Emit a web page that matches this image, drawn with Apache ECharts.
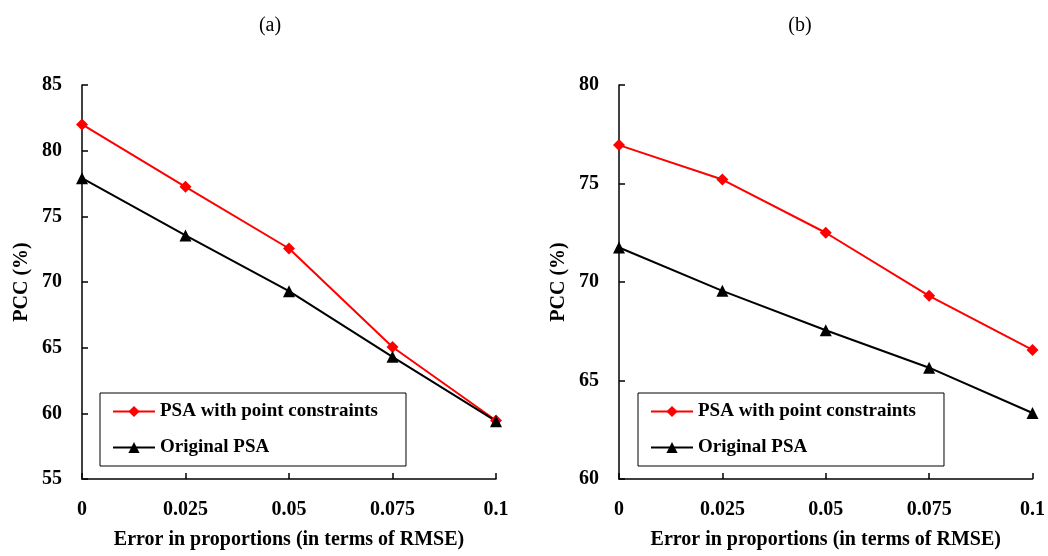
<!DOCTYPE html>
<html>
<head>
<meta charset="utf-8">
<script src="https://cdn.jsdelivr.net/npm/echarts@6/dist/echarts.min.js"></script>
<style>
  html, body { margin: 0; padding: 0; background: #fff; }
  #chart { width: 1048px; height: 556px; }
</style>
</head>
<body>
<div id="chart"></div>
<script>
  const errorLevels = [0, 0.025, 0.05, 0.075, 0.1];
  const xTickLabels = ["0", "0.025", "0.05", "0.075", "0.1"];

  // panel (a)
  const constrainedA = [82.0, 77.25, 72.55, 65.05, 59.45];
  const originalA = [77.9, 73.55, 69.3, 64.3, 59.4];
  // panel (b)
  const constrainedB = [76.95, 75.2, 72.5, 69.3, 66.55];
  const originalB = [71.75, 69.55, 67.55, 65.65, 63.35];

  const seriesNames = ["PSA with point constraints", "Original PSA"];
  const font = "'Liberation Serif', 'Times New Roman', serif";

  const pair = (ys) => errorLevels.map((x, i) => [x, ys[i]]);

  const xAxisFor = (gridIndex) => ({
    type: "value",
    gridIndex: gridIndex,
    min: 0,
    max: 0.1,
    interval: 0.025,
    name: "Error in proportions (in terms of RMSE)",
    nameLocation: "middle",
    nameGap: 51,
    nameTextStyle: { fontFamily: font, fontWeight: "bold", fontSize: 20, color: "#000" },
    axisLine: { lineStyle: { color: "#000", width: 1.5 } },
    axisTick: { inside: true, length: 6, lineStyle: { color: "#000", width: 1.5 } },
    axisLabel: {
      margin: 21,
      fontFamily: font,
      fontWeight: "bold",
      fontSize: 20,
      color: "#000",
      formatter: (v) => xTickLabels[errorLevels.indexOf(+v.toFixed(3))] ?? ""
    },
    splitLine: { show: false }
  });

  const yAxisFor = (gridIndex, min, max) => ({
    type: "value",
    gridIndex: gridIndex,
    min: min,
    max: max,
    interval: 5,
    name: "PCC (%)",
    nameLocation: "middle",
    nameGap: 50,
    nameTextStyle: { fontFamily: font, fontWeight: "bold", fontSize: 20, color: "#000" },
    axisLine: { show: true, lineStyle: { color: "#000", width: 1.5 } },
    axisTick: { show: true, inside: true, length: 6, lineStyle: { color: "#000", width: 1.5 } },
    axisLabel: { margin: 20, fontFamily: font, fontWeight: "bold", fontSize: 20, color: "#000" },
    splitLine: { show: false }
  });

  const lineSeries = (name, idx, ys, color, symbol, size) => ({
    name: name,
    type: "line",
    xAxisIndex: idx,
    yAxisIndex: idx,
    data: pair(ys),
    symbol: symbol,
    symbolSize: size,
    showSymbol: true,
    lineStyle: { color: color, width: 2 },
    itemStyle: { color: color },
    emphasis: { disabled: true },
    animation: false
  });

  const legendFor = (left) => ({
    data: seriesNames,
    orient: "vertical",
    left: left,
    top: 393,
    itemWidth: 42,
    itemHeight: 14,
    itemGap: 17,
    padding: [9, 28, 9, 12],
    borderColor: "#000",
    borderWidth: 1,
    backgroundColor: "#fff",
    selectedMode: false,
    textStyle: { fontFamily: font, fontWeight: "bold", fontSize: 19, color: "#000" }
  });

  const chart = echarts.init(document.getElementById("chart"), null, { renderer: "canvas" });
  chart.setOption({
    animation: false,
    backgroundColor: "#fff",
    title: [
      { text: "(a)", left: 265, top: 11, textAlign: "center",
        textStyle: { fontFamily: font, fontWeight: "normal", fontSize: 20, color: "#000" } },
      { text: "(b)", left: 795, top: 11, textAlign: "center",
        textStyle: { fontFamily: font, fontWeight: "normal", fontSize: 20, color: "#000" } }
    ],
    grid: [
      { left: 82, top: 85, width: 414, height: 394, containLabel: false },
      { left: 619, top: 85, width: 415, height: 394, containLabel: false }
    ],
    xAxis: [xAxisFor(0), xAxisFor(1)],
    yAxis: [yAxisFor(0, 55, 85), yAxisFor(1, 60, 80)],
    legend: [legendFor(100), legendFor(638)],
    series: [
      lineSeries(seriesNames[0], 0, constrainedA, "#ff0000", "diamond", 12),
      lineSeries(seriesNames[1], 0, originalA, "#000000", "triangle", 12),
      lineSeries(seriesNames[0], 1, constrainedB, "#ff0000", "diamond", 12),
      lineSeries(seriesNames[1], 1, originalB, "#000000", "triangle", 12)
    ]
  });
</script>
</body>
</html>
